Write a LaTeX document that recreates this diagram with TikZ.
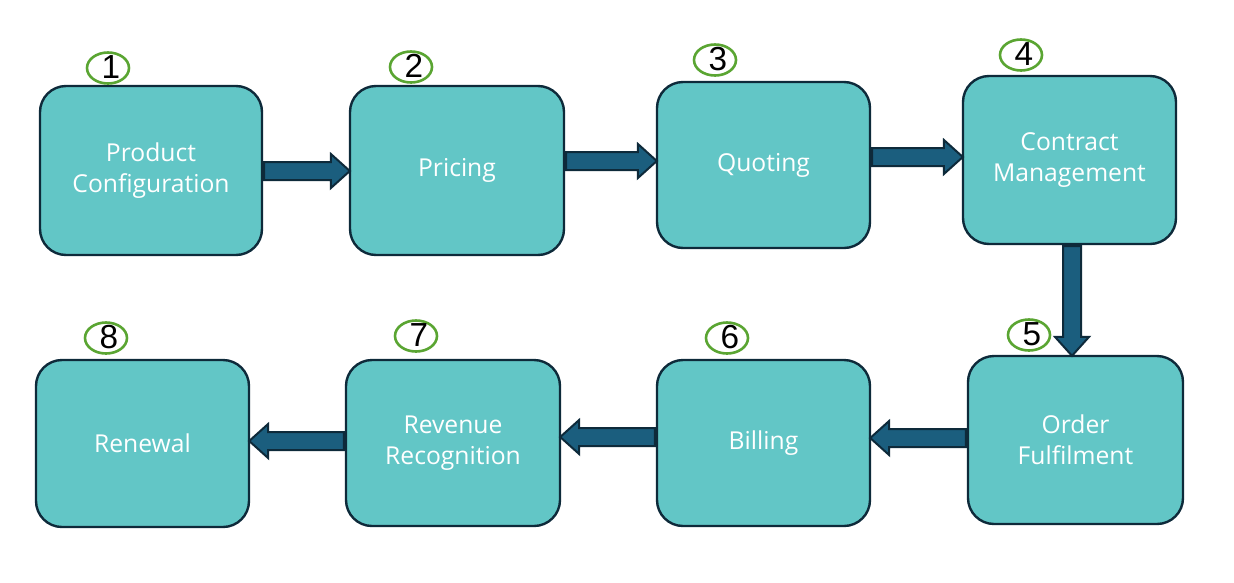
\documentclass[tikz,border=0pt]{standalone}
\usepackage{fontspec}
\setmainfont{Open Sans}
\newfontfamily\numfont{Liberation Sans}
\usetikzlibrary{shapes.geometric,shapes.arrows,calc}
\definecolor{boxfill}{HTML}{62C6C6}
\definecolor{boxline}{HTML}{0E2A3A}
\definecolor{arrfill}{HTML}{1B5E7E}
\definecolor{circgreen}{HTML}{5AA532}
\newdimen\px \px=0.75pt
\tikzset{
  stepbox/.style={draw=boxline, fill=boxfill, line width=2.4\px, rounded corners=26\px,
    align=center, text=white, font=\fontsize{18.5}{23.5}\selectfont, inner sep=0},
  numring/.style={draw=circgreen, line width=2.6\px, ellipse, inner sep=0,
    minimum width=42\px, minimum height=31\px},
  numtext/.style={font=\numfont\fontsize{25}{25}\selectfont, text=black, inner sep=0},
  barrow/.style={single arrow, draw=boxline, fill=arrfill, line width=2\px,
    inner xsep=0, inner ysep=8\px, single arrow head extend=8\px, single arrow tip angle=84,
    sloped, allow upside down, pos=0, anchor=tail}
}
\begin{document}
\begin{tikzpicture}[x=0.75pt,y=-0.75pt]
\useasboundingbox (0,0) rectangle (1234,582);
% boxes
\node[stepbox, minimum width=222\px, minimum height=169\px] (b1) at (151,170.5) {Product\\Configuration};
\node[stepbox, minimum width=214\px, minimum height=169\px] (b2) at (457,170.5) {Pricing};
\node[stepbox, minimum width=213\px, minimum height=166\px] (b3) at (763.5,165) {Quoting};
\node[stepbox, minimum width=213\px, minimum height=168\px] (b4) at (1069.5,160) {Contract\\Management};
\node[stepbox, minimum width=215\px, minimum height=168\px] (b5) at (1075.5,440) {Order\\Fulfilment};
\node[stepbox, minimum width=213\px, minimum height=166\px] (b6) at (763.5,443) {Billing};
\node[stepbox, minimum width=214\px, minimum height=166\px] (b7) at (453,443) {Revenue\\Recognition};
\node[stepbox, minimum width=213\px, minimum height=167\px] (b8) at (142.5,443.5) {Renewal};
% numbers
\foreach \n/\x/\y in {1/108/68, 2/411/67, 3/715/60, 4/1021/55, 5/1029/335, 6/727/338, 7/416/336, 8/106/338}{
  \node[numring] (r\n) at (\x,\y) {};
  \node[numtext] (t\n) at ($(r\n)+(3,-1)$) {\n};
}
% arrows
\coordinate (a1s) at (b1.east |- 0,171); \coordinate (a1e) at (b2.west |- 0,171);
\coordinate (a2s) at (b2.east |- 0,161); \coordinate (a2e) at (b3.west |- 0,161);
\coordinate (a3s) at (b3.east |- 0,157); \coordinate (a3e) at (b4.west |- 0,157);
\coordinate (a4s) at (b4.south -| 1072,0); \coordinate (a4e) at (b5.north -| 1072,0);
\coordinate (a5s) at (b5.west |- 0,438); \coordinate (a5e) at (b6.east |- 0,438);
\coordinate (a6s) at (b6.west |- 0,437); \coordinate (a6e) at (b7.east |- 0,437);
\coordinate (a7s) at (b7.west |- 0,441); \coordinate (a7e) at (b8.east |- 0,441);
\foreach \i in {1,...,7}{
  \path let \p1=($(a\i e)-(a\i s)$), \n1={veclen(\x1,\y1)} in
    (a\i s) -- node[barrow, minimum height=\n1] {} (a\i e);
}
\end{tikzpicture}
\end{document}
